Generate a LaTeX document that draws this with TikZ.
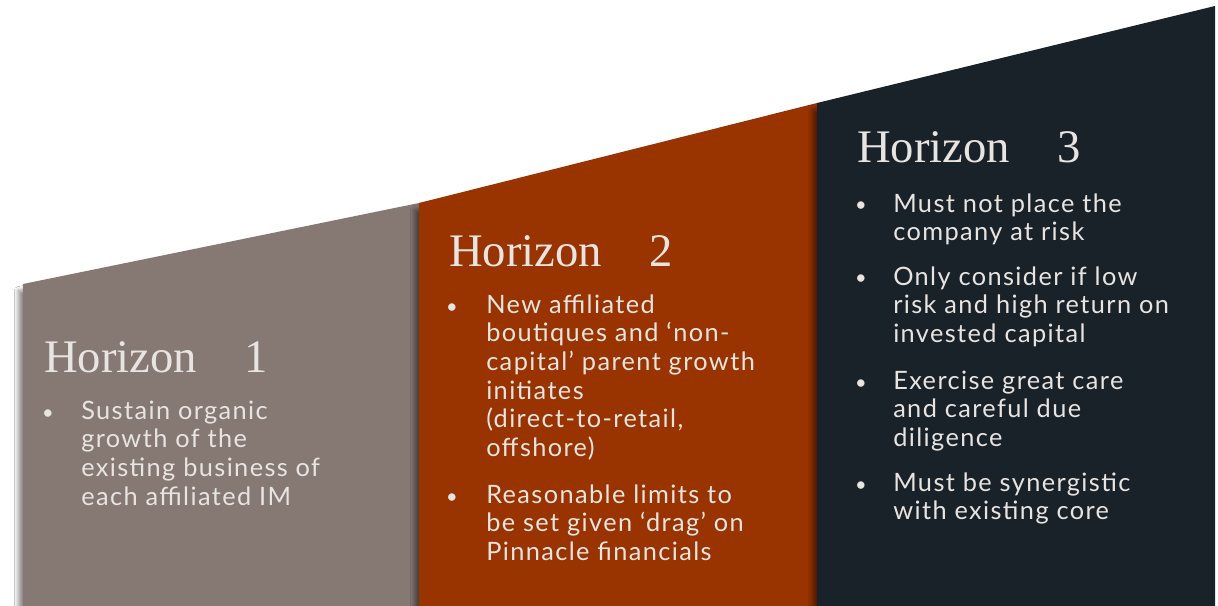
\documentclass[tikz,border=0pt]{standalone}
\usepackage{fontspec}
\setmainfont{Lato}
\newfontfamily\headfont{Liberation Serif}
\newfontfamily\bodyfont[LetterSpace=5.5]{Lato}
\usetikzlibrary{shadows.blur}
\definecolor{pone}{HTML}{867873}
\definecolor{ptwo}{HTML}{993300}
\definecolor{pthree}{HTML}{1A2229}
\definecolor{txt}{HTML}{E8E4E2}
\begin{document}
\begin{tikzpicture}[x=0.75pt,y=-0.75pt,
 panel/.style={blur shadow={shadow xshift=-3.5pt,shadow yshift=-5pt,shadow blur steps=10,shadow blur radius=3pt,shadow opacity=45}},
 head/.style={anchor=base west,inner sep=0,text=txt,font=\headfont\fontsize{35}{40}\selectfont},
 body/.style={anchor=base west,inner sep=0,text=txt,align=left,font=\bodyfont\fontsize{19}{21.5}\selectfont},
 dot/.style={anchor=base,inner sep=0,text=txt,font=\bodyfont\fontsize{15}{21.5}\selectfont}]
\useasboundingbox (0,0) rectangle (1218,606);
\fill[white] (0,0) rectangle (1218,606);
\fill[pone,panel] (23,284) -- (419,203) -- (419,620) -- (23,620) -- cycle;
\fill[ptwo,panel] (419,203) -- (817,103) -- (817,620) -- (419,620) -- cycle;
\fill[pthree,panel] (817,103) -- (1215,6) -- (1215,620) -- (817,620) -- cycle;
% panel 1  (multi-line nodes anchored at the baseline of their last line)
\node[head] (h1) at (44,372) {\makebox[150pt][l]{Horizon}1};
\node[dot] (b11) at (48,419) {•};
\node[body] (t11) at (81,505) {Sustain organic\\growth of the\\existing business of\\each affiliated IM};
% panel 2
\node[head] (h2) at (449,267) {\makebox[150pt][l]{Horizon}2};
\node[dot] (b21) at (452,313) {•};
\node[body] (t21) at (486,456.5) {New affiliated\\boutiques and ‘non-\\capital’ parent growth\\initiates\\(direct-to-retail,\\offshore)};
\node[dot] (b22) at (452,503) {•};
\node[body] (t22) at (486,560.5) {Reasonable limits to\\be set given ‘drag’ on\\Pinnacle financials};
% panel 3
\node[head] (h3) at (857,163) {\makebox[150pt][l]{Horizon}3};
\node[dot] (b31) at (861,212) {•};
\node[body] (t31) at (893,240.7) {Must not place the\\company at risk};
\node[dot] (b32) at (861,285) {•};
\node[body] (t32) at (893,342.5) {Only consider if low\\risk and high return on\\invested capital};
\node[dot] (b33) at (861,389) {•};
\node[body] (t33) at (893,446.5) {Exercise great care\\and careful due\\diligence};
\node[dot] (b34) at (861,491) {•};
\node[body] (t34) at (893,519.7) {Must be synergistic\\with existing core};
\end{tikzpicture}
\end{document}
